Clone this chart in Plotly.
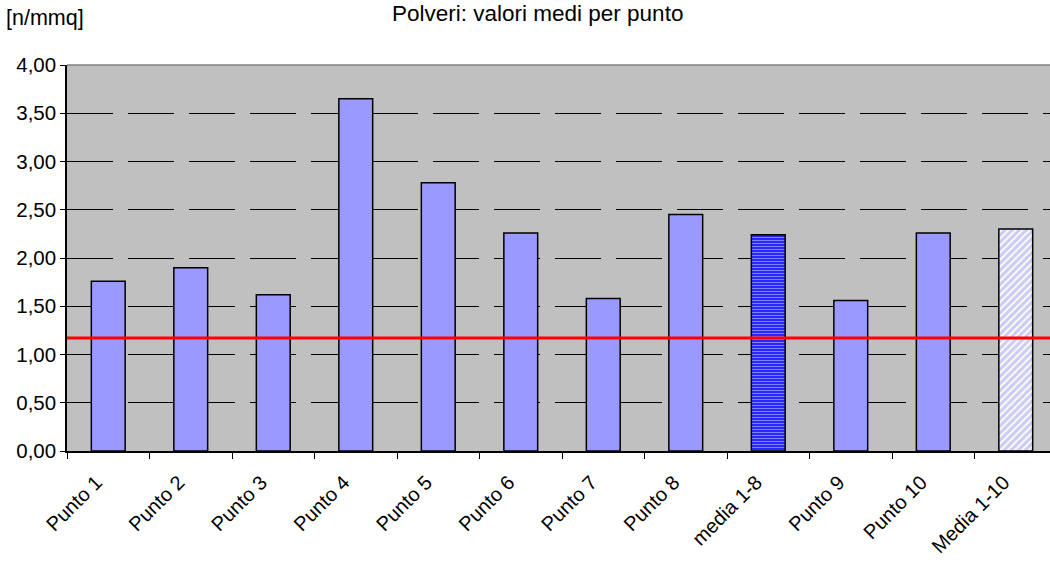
import plotly.graph_objects as go

# Dust counts per sampling point
categories = ["Punto 1", "Punto 2", "Punto 3", "Punto 4", "Punto 5", "Punto 6",
              "Punto 7", "Punto 8", "media 1-8", "Punto 9", "Punto 10", "Media 1-10"]
values = [1.76, 1.90, 1.62, 3.65, 2.78, 2.26, 1.58, 2.45, 2.24, 1.56, 2.26, 2.30]
limit_value = 1.17
y_ticks = [0, 0.5, 1.0, 1.5, 2.0, 2.5, 3.0, 3.5, 4.0]

# bar styles: plain points, partial mean, overall mean
styles = {
    "plain": dict(color="#9999FF", pattern=dict(shape="")),
    "media 1-8": dict(color="#0000FF",
                      pattern=dict(shape="-", fgcolor="#FFFFFF", size=3, solidity=0.55,
                                   fillmode="overlay")),
    "Media 1-10": dict(color="#FFFFF0",
                       pattern=dict(shape="/", fgcolor="#9999FF", size=5, solidity=0.65,
                                    fillmode="overlay")),
}

fig = go.Figure()
for key, style in styles.items():
    if key == "plain":
        sel = [i for i, c in enumerate(categories) if c not in styles]
    else:
        sel = [i for i, c in enumerate(categories) if c == key]
    fig.add_trace(go.Bar(
        x=[categories[i] for i in sel], y=[values[i] for i in sel], width=0.41,
        marker=dict(color=style["color"], pattern=style["pattern"],
                    line=dict(color="#000000", width=1.5)),
        showlegend=False, hoverinfo="x+y",
    ))

# Reference limit line across the whole plot width
fig.add_shape(type="line", xref="paper", yref="y", x0=0, x1=1,
              y0=limit_value, y1=limit_value, line=dict(color="#FF0000", width=3), layer="above")
# Plot area top border
fig.add_shape(type="line", xref="paper", yref="paper", x0=0, x1=1, y0=1, y1=1,
              line=dict(color="#808080", width=1.5), layer="above")

font_family = "Liberation Sans, Arial, sans-serif"
fig.update_layout(
    width=1050, height=562,
    margin=dict(l=67, r=0, t=65, b=111),
    paper_bgcolor="#FFFFFF", plot_bgcolor="#C0C0C0",
    separators=",.", barmode="overlay",
    font=dict(family=font_family, color="#000000"),
    annotations=[
        dict(text="Polveri: valori medi per punto", xref="paper", yref="paper",
             x=0.4785, y=1, yshift=52, xanchor="center", yanchor="middle",
             showarrow=False, font=dict(size=22.5, family=font_family)),
        dict(text="[n/mmq]", xref="paper", yref="paper", x=0, xshift=-63,
             y=1, yshift=47, xanchor="left", yanchor="middle",
             showarrow=False, font=dict(size=21.5, family=font_family)),
    ],
)
fig.update_xaxes(
    type="category", categoryorder="array", categoryarray=categories,
    range=[-0.5, 11.415], automargin=False,
    showline=True, linecolor="#000000", linewidth=1.5,
    ticks="outside", tickson="boundaries", ticklen=6, tickcolor="#000000",
    tickangle=-45, tickfont=dict(size=20, family=font_family),
    ticklabelshift=-12, ticklabelstandoff=10,
    showgrid=False, zeroline=False,
)
fig.update_yaxes(
    range=[0, 4.0], tickvals=y_ticks, tickformat=".2f", automargin=False,
    showline=True, linecolor="#000000", linewidth=1.5,
    ticks="outside", ticklen=5, tickcolor="#000000",
    tickfont=dict(size=20.5, family=font_family),
    showgrid=True, gridcolor="#000000", gridwidth=1, griddash="46px,15px",
    zeroline=False,
)

fig.write_html("out.html")
